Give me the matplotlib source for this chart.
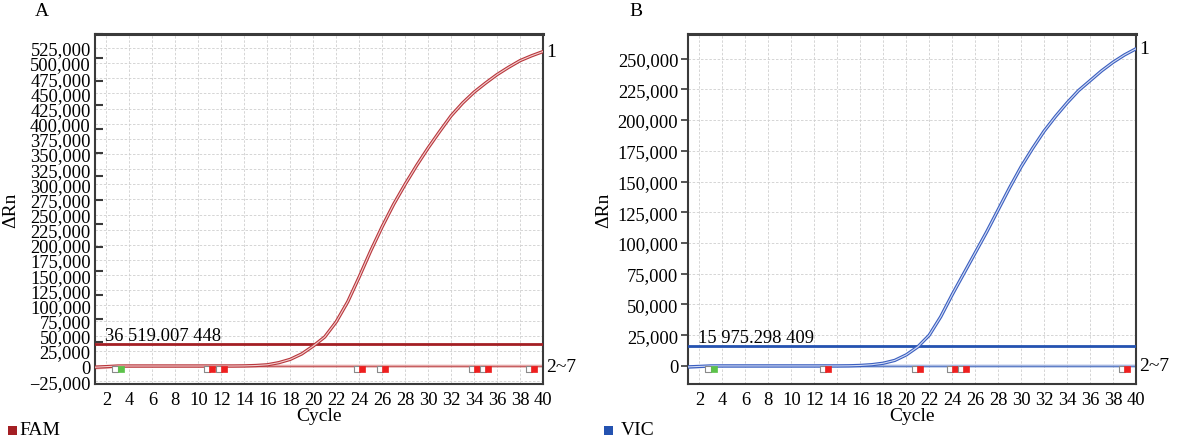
import numpy as np
import matplotlib
matplotlib.use('Agg')
from matplotlib import pyplot as plt
from matplotlib.ticker import FixedLocator, FuncFormatter
from matplotlib.patches import Rectangle
import matplotlib.transforms as mtrans

plt.rcParams['font.family'] = ['Liberation Serif', 'DejaVu Serif']
plt.rcParams['font.size'] = 13.3

cycles = list(range(1, 41))

# sample 1 (positive) amplification, delta Rn per cycle
fam_pos = [-2000, -1000, 0, 0, 0, 0, 0, 0, 0, 0,
           0, 0, 0, 200, 800, 2000, 5500, 11000, 20000, 33000,
           48000, 73000, 106000, 147000, 190000, 230000, 267000, 300000, 331000, 360000,
           387000, 413000, 434000, 452000, 467000, 481000, 493000, 504000, 512000, 519000]
vic_pos = [-800, -400, 0, 0, 0, 0, 0, 0, 0, 0,
           0, 0, 0, 0, 100, 400, 1000, 2200, 4500, 9000,
           15500, 25000, 40000, 58000, 75000, 92000, 109000, 127000, 145000, 162000,
           177000, 191000, 203000, 214000, 224000, 232000, 240000, 247000, 253000, 258000]
# samples 2~7 (negative), flat
fam_neg = [-3500, -2500, -800, 0, 0, 0, 0, 0, 0, 0,
           0, 0, 0, 0, 0, 0, 0, 0, 0, 0,
           0, 0, 0, 0, 0, 0, 0, 0, 0, 0,
           0, 0, 0, 0, 0, 0, 0, 0, 0, 0]
vic_neg = [-1200, -800, -300, 0, 0, 0, 0, 0, 0, 0,
           0, 0, 0, 0, 0, 0, 0, 0, 0, 0,
           0, 0, 0, 0, 0, 0, 0, 0, 0, 0,
           0, 0, 0, 0, 0, 0, 0, 0, 0, 0]

fam_threshold = 36519.007448
vic_threshold = 15975.298409
fam_thr_label = '36 519.007 448'
vic_thr_label = '15 975.298 409'

# baseline flag markers (cycles)
fam_green = [3]
fam_red = [11, 12, 24, 26, 34, 35, 39]
vic_green = [3]
vic_red = [13, 21, 24, 25, 39]

fam_yticks = list(range(-25000, 525001, 25000))
vic_yticks = list(range(0, 250001, 25000))
xticks = list(range(2, 41, 2))


def fmt(v, pos=None):
    if v == 0:
        return '0'
    s = '{:,.0f}'.format(abs(v))
    return ('\u2212' if v < 0 else '') + s


def panel(ax, pos, neg, thr, thr_label, green, red, yticks, ylim,
          c_line, c_light, c_thr, c_neg, inner_ticks):
    ax.set_xlim(1, 40)
    ax.set_ylim(*ylim)
    ax.set_xticks(xticks)
    ax.set_yticks(yticks)
    ax.yaxis.set_major_formatter(FuncFormatter(fmt))
    ax.grid(True, color='#cfcfcf', linestyle=(0, (3, 2)), linewidth=0.6)
    ax.set_axisbelow(True)
    for s in ax.spines.values():
        s.set_color('#3a3a3a')
        s.set_linewidth(1.5)
    ax.spines['top'].set_linewidth(2.2)
    ax.tick_params(axis='x', length=0, pad=5)
    if inner_ticks:
        ax.tick_params(axis='y', length=0, pad=3)
        ax.yaxis.set_minor_locator(FixedLocator(np.linspace(0, ylim[1], 15)))
        ax.tick_params(axis='y', which='minor', direction='in', length=6,
                       width=1.5, color='#3a3a3a')
    else:
        ax.tick_params(axis='y', length=5, width=1.2, color='#3a3a3a', pad=2)

    # negatives 2~7
    ax.axhline(0, color=c_thr, linewidth=1.0, zorder=2)
    ax.plot(cycles, neg, color=c_neg, linewidth=2.0, alpha=0.6, zorder=2)
    # threshold
    ax.axhline(thr, color=c_thr, linewidth=2.0, zorder=3)
    ax.text(1.85, thr, thr_label, ha='left', va='bottom')
    # positive curve drawn as double line
    ax.plot(cycles, pos, color=c_line, linewidth=2.4, zorder=4)
    ax.plot(cycles, pos, color=c_light, linewidth=0.8, zorder=5)

    off = mtrans.offset_copy(ax.transData, fig=ax.figure, x=0, y=-2, units='points')
    for c in green + red:
        col = '#5cc24a' if c in green else '#ee1f1f'
        ax.scatter([c - 0.22], [0], marker='s', s=16, facecolor='white',
                   edgecolor='#8a8a8a', linewidth=0.8, transform=off, zorder=6)
        ax.scatter([c + 0.22], [0], marker='s', s=16, facecolor=col,
                   edgecolor=col, linewidth=0.5, transform=off, zorder=6)

    tr = ax.get_yaxis_transform()
    ax.text(1.008, pos[-1], '1', transform=tr, ha='left', va='center', fontsize=14)
    ax.text(1.008, 0, '2~7', transform=tr, ha='left', va='center', fontsize=14)
    ax.set_xlabel('Cycle', fontsize=14, labelpad=-1)
    ax.set_ylabel('\u0394Rn', fontsize=14)
    ax.yaxis.set_label_coords(-0.168, 0.5)


fig = plt.figure(figsize=(11.81, 4.39), dpi=100)
W, H = 1181, 439
axA = fig.add_axes([95 / W, (H - 385) / H, (543 - 95) / W, (385 - 35) / H])
axB = fig.add_axes([688 / W, (H - 385) / H, (1136 - 688) / W, (385 - 35) / H])

panel(axA, fam_pos, fam_neg, fam_threshold, fam_thr_label, fam_green, fam_red,
      fam_yticks, (-29700, 548000), '#b8373c', '#f3cfd0', '#a41f24', '#e08c8c', True)
panel(axB, vic_pos, vic_neg, vic_threshold, vic_thr_label, vic_green, vic_red,
      vic_yticks, (-14700, 270000), '#3b5fc0', '#d3dcf4', '#2452b0', '#8aa0d8', False)

fig.text(42 / W, 1 - 12 / H, 'A', ha='center', va='center', fontsize=14)
fig.text(636 / W, 1 - 12 / H, 'B', ha='center', va='center', fontsize=14)

# legend swatches
fig.patches.append(Rectangle((8 / W, 1 - 436 / H), 9 / W, 9 / H, transform=fig.transFigure,
                             facecolor='#a41f24', edgecolor='none'))
fig.text(19 / W, 1 - 431 / H, 'FAM', ha='left', va='center', fontsize=14)
fig.patches.append(Rectangle((604 / W, 1 - 436 / H), 9 / W, 9 / H, transform=fig.transFigure,
                             facecolor='#2452b0', edgecolor='none'))
fig.text(621 / W, 1 - 431 / H, 'VIC', ha='left', va='center', fontsize=14)

fig.savefig('out.png', dpi=100)
